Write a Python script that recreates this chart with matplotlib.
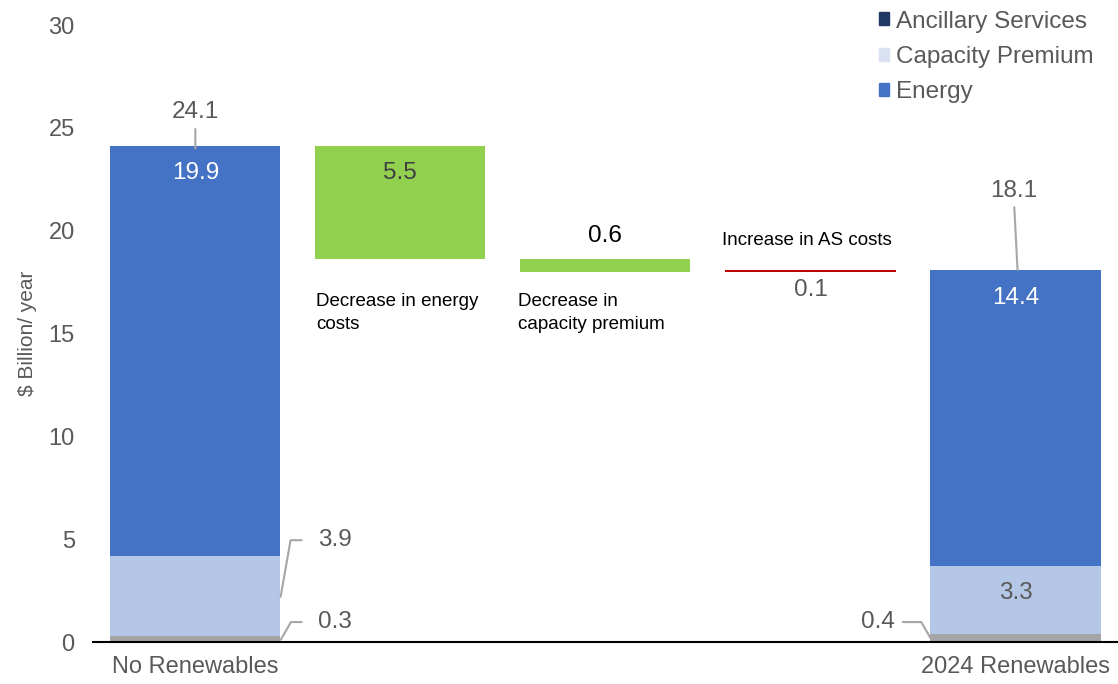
import matplotlib.pyplot as plt
from matplotlib.patches import Patch

plt.rcParams['font.family'] = ['Liberation Sans', 'DejaVu Sans']

# Stacked totals (left and right bars)
categories = ["No Renewables", "", "", "", "2024 Renewables"]
ancillary = [0.3, 0.4]
capacity = [3.9, 3.3]
energy = [19.9, 14.4]
totals = [24.1, 18.1]

# Waterfall steps
step_values = [-5.5, -0.6, 0.1]
step_labels = ["Decrease in energy\ncosts", "Decrease in\ncapacity premium", "Increase in AS costs"]

c_energy = "#4472C4"
c_cap = "#B4C7E7"
c_anc = "#A5A5A5"
c_green = "#92D050"
c_red = "#C00000"
grey_txt = "#595959"

fig = plt.figure(figsize=(11.18, 6.84), dpi=100)
ax = fig.add_axes([0.083, 0.0614, 0.917, 0.902])
w = 0.83

end_x = [0, 4]
for i, x in enumerate(end_x):
    ax.bar(x, ancillary[i], w, color=c_anc)
    ax.bar(x, capacity[i], w, bottom=ancillary[i], color=c_cap)
    ax.bar(x, energy[i], w, bottom=ancillary[i] + capacity[i], color=c_energy)

# floating steps
level = totals[0]
for j, v in enumerate(step_values):
    x = j + 1
    if v < 0:
        ax.bar(x, -v, w, bottom=level + v, color=c_green)
        level = level + v
    else:
        ax.bar(x, v, w, bottom=level, color=c_red)
        level = level + v

fs = 17.5
lead = dict(arrowstyle="-", color="#A6A6A6", lw=1.5)
# left bar labels
ax.annotate(f"{totals[0]}", xy=(0, totals[0] - 0.1), xytext=(0, 25.75), ha="center", va="center",
            fontsize=fs, color=grey_txt,
            arrowprops=dict(lead, shrinkB=0, shrinkA=2))
ax.text(0, 22.8, f"{energy[0]}", ha="center", va="center", fontsize=fs, color="white")
ax.annotate(f"{capacity[0]}", xy=(0.416, 2.2), xytext=(0.6, 4.95), ha="left", va="center",
            fontsize=fs, color=grey_txt,
            arrowprops=dict(lead, shrinkA=10, shrinkB=0,
                            connectionstyle="angle,angleA=180,angleB=80,rad=0"))
ax.annotate(f"{ancillary[0]}", xy=(0.416, 0.1), xytext=(0.6, 0.97), ha="left", va="center",
            fontsize=fs, color=grey_txt,
            arrowprops=dict(lead, shrinkA=10, shrinkB=0,
                            connectionstyle="angle,angleA=180,angleB=60,rad=0"))

# right bar labels
ax.annotate(f"{totals[1]}", xy=(4.01, totals[1]), xytext=(3.99, 21.95), ha="center", va="center",
            fontsize=fs, color=grey_txt,
            arrowprops=dict(lead, shrinkB=0, shrinkA=2))
ax.text(4, 16.75, f"{energy[1]}", ha="center", va="center", fontsize=fs, color="white")
ax.text(4, 2.4, f"{capacity[1]}", ha="center", va="center", fontsize=fs, color=grey_txt)
ax.annotate(f"{ancillary[1]}", xy=(3.585, 0.2), xytext=(3.41, 0.97), ha="right", va="center",
            fontsize=fs, color=grey_txt,
            arrowprops=dict(lead, shrinkA=4, shrinkB=0,
                            connectionstyle="angle,angleA=0,angleB=120,rad=0"))

# step labels
ax.text(1, 22.8, f"{abs(step_values[0])}", ha="center", va="center", fontsize=fs, color="#404040")
ax.text(2, 19.75, f"{abs(step_values[1])}", ha="center", va="center", fontsize=fs, color="black")
ax.text(3, 17.1, f"{step_values[2]}", ha="center", va="center", fontsize=fs, color=grey_txt)
ax.text(0.59, 16.0, step_labels[0], ha="left", va="center", fontsize=13.5, color="black",
        linespacing=1.45)
ax.text(1.575, 16.0, step_labels[1], ha="left", va="center", fontsize=13.5, color="black",
        linespacing=1.45)
ax.text(2.57, 19.5, step_labels[2], ha="left", va="center", fontsize=13.5, color="black")

ax.set_xlim(-0.5, 4.5)
ax.set_ylim(0, 30)
ax.set_yticks(range(0, 31, 5))
ax.set_xticks([0, 4])
ax.set_xticklabels([categories[0], categories[4]])
ax.tick_params(axis="both", length=0, labelsize=17, colors=grey_txt)
ax.tick_params(axis="y", pad=13)
ax.tick_params(axis="x", pad=10)
for s in ["top", "right", "left"]:
    ax.spines[s].set_visible(False)
ax.spines["bottom"].set_color("black")
ax.spines["bottom"].set_linewidth(1.5)
ax.set_ylabel("$ Billion/ year", fontsize=15, color=grey_txt, labelpad=8)

handles = [Patch(color="#1F3864", label="Ancillary Services"),
           Patch(color="#D9E1F2", label="Capacity Premium"),
           Patch(color=c_energy, label="Energy")]
ax.legend(handles=handles, loc="upper right", bbox_to_anchor=(0.99, 1.047), frameon=False,
          fontsize=17.5, handlelength=0.45, handleheight=0.45, handletextpad=0.25,
          labelspacing=0.55, labelcolor=grey_txt, borderaxespad=0.2)

fig.savefig("out.png", dpi=100)
